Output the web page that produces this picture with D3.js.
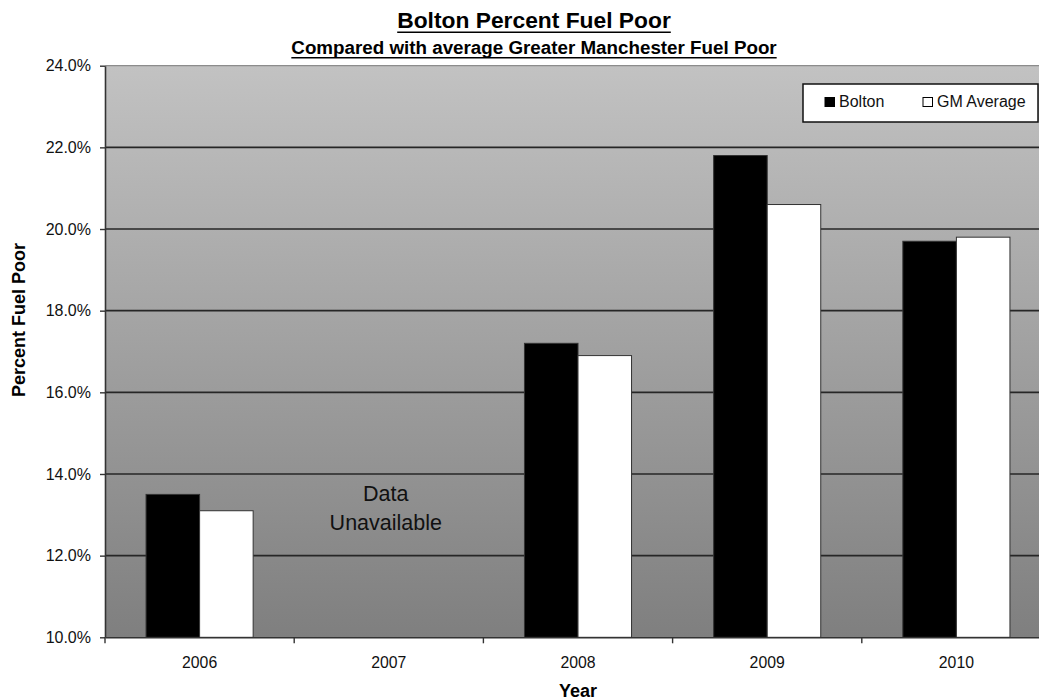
<!DOCTYPE html>
<html>
<head>
<meta charset="utf-8">
<script src="https://cdn.jsdelivr.net/npm/d3@7"></script>
<style>
  html, body { margin: 0; padding: 0; background: #fff; }
  svg { display: block; font-family: "Liberation Sans", Arial, Helvetica, sans-serif; }
</style>
</head>
<body>
<svg id="chart" width="1039" height="700"></svg>
<script>
// Percent of households in fuel poverty, by year
const years = ["2006", "2007", "2008", "2009", "2010"];
const boltonPct = [13.5, null, 17.2, 21.8, 19.7];
const gmAveragePct = [13.1, null, 16.9, 20.6, 19.8];
const seriesNames = ["Bolton", "GM Average"];
const yTickValues = [10, 12, 14, 16, 18, 20, 22, 24];

const seriesFill = { "Bolton": "#000000", "GM Average": "#ffffff" };
const seriesValues = { "Bolton": boltonPct, "GM Average": gmAveragePct };

const svg = d3.select("#chart");
const plot = { left: 105, right: 1051, top: 65.7, bottom: 637.3 };

const x = d3.scaleBand().domain(years).range([plot.left, plot.right]).padding(0);
const groupWidth = x.step() * 0.566;
const xs = d3.scaleBand().domain(seriesNames).range([0, groupWidth]).padding(0);
const y = d3.scaleLinear().domain([10, 24]).range([plot.bottom, plot.top]);

// plot-area gradient fill
const defs = svg.append("defs");
const grad = defs.append("linearGradient")
  .attr("id", "plotFill").attr("x1", 0).attr("y1", 0).attr("x2", 0).attr("y2", 1);
grad.append("stop").attr("offset", "0%").attr("stop-color", "#c2c2c2");
grad.append("stop").attr("offset", "100%").attr("stop-color", "#7f7f7f");

svg.append("rect")
  .attr("x", plot.left).attr("y", y(24))
  .attr("width", plot.right - plot.left).attr("height", y(10) - y(24))
  .attr("fill", "url(#plotFill)");

// top border of plot area
svg.append("line")
  .attr("x1", plot.left).attr("x2", plot.right)
  .attr("y1", y(24)).attr("y2", y(24))
  .attr("stroke", "#8c8c8c").attr("stroke-width", 1.2);

// horizontal gridlines
svg.append("g").selectAll("line")
  .data(yTickValues.filter(v => v > 10 && v < 24))
  .join("line")
  .attr("x1", plot.left).attr("x2", plot.right)
  .attr("y1", d => y(d)).attr("y2", d => y(d))
  .attr("stroke", "#262626").attr("stroke-width", 1.6);

// bars
const barData = [];
years.forEach((yr, i) => {
  seriesNames.forEach(s => {
    const v = seriesValues[s][i];
    if (v != null) barData.push({ year: yr, series: s, value: v });
  });
});

svg.append("g").selectAll("rect")
  .data(barData)
  .join("rect")
  .attr("x", d => x(d.year) + (x.bandwidth() - groupWidth) / 2 + xs(d.series))
  .attr("y", d => y(d.value))
  .attr("width", xs.bandwidth())
  .attr("height", d => y(10) - y(d.value))
  .attr("fill", d => seriesFill[d.series])
  .attr("stroke", "#333")
  .attr("stroke-width", 1);

// note for years without data
years.forEach((yr, i) => {
  if (boltonPct[i] == null && gmAveragePct[i] == null) {
    const cx = x(yr) + x.bandwidth() / 2 - 3;
    const t = svg.append("text")
      .attr("text-anchor", "middle")
      .attr("font-size", 21.5)
      .attr("fill", "#111");
    t.append("tspan").attr("x", cx).attr("y", y(13.35)).text("Data");
    t.append("tspan").attr("x", cx).attr("y", y(13.35) + 29.5).text("Unavailable");
  }
});

// y axis
const yAxis = svg.append("g")
  .attr("transform", `translate(${plot.left},0)`)
  .call(d3.axisLeft(y).tickValues(yTickValues)
    .tickFormat(d => d.toFixed(1) + "%")
    .tickSize(5).tickSizeOuter(0).tickPadding(9));
yAxis.select(".domain").attr("stroke", "#333").attr("stroke-width", 1.6);
yAxis.selectAll(".tick line").attr("stroke", "#333").attr("stroke-width", 1.4);
yAxis.selectAll(".tick text")
  .attr("font-size", 16).attr("fill", "#111")
  .attr("font-family", "\"Liberation Sans\", Arial, sans-serif");

// x axis
const xAxis = svg.append("g")
  .attr("transform", `translate(0,${plot.bottom})`)
  .call(d3.axisBottom(x).tickSize(0).tickPadding(19));
xAxis.select(".domain").attr("stroke", "#333").attr("stroke-width", 1.6);
xAxis.selectAll(".tick text")
  .attr("font-size", 15.8).attr("fill", "#111")
  .attr("font-family", "\"Liberation Sans\", Arial, sans-serif");

// category boundary ticks
const boundaries = years.map(yr => x(yr)).concat([x(years[years.length - 1]) + x.step()]);
svg.append("g").selectAll("line")
  .data(boundaries)
  .join("line")
  .attr("x1", d => d).attr("x2", d => d)
  .attr("y1", plot.bottom).attr("y2", plot.bottom + 6)
  .attr("stroke", "#333").attr("stroke-width", 1.4);

// axis titles
svg.append("text")
  .attr("x", (plot.left + plot.right) / 2).attr("y", 697)
  .attr("text-anchor", "middle")
  .attr("font-size", 18).attr("font-weight", "bold")
  .text("Year");

svg.append("text")
  .attr("transform", "translate(25,320) rotate(-90)")
  .attr("text-anchor", "middle")
  .attr("font-size", 18).attr("font-weight", "bold")
  .text("Percent Fuel Poor");

// titles with underlines
function underlinedTitle(text, cx, baseline, size, gap, thick) {
  const t = svg.append("text")
    .attr("x", cx).attr("y", baseline)
    .attr("text-anchor", "middle")
    .attr("font-size", size).attr("font-weight", "bold")
    .attr("fill", "#000")
    .text(text);
  const w = t.node().getComputedTextLength();
  svg.append("line")
    .attr("x1", cx - w / 2).attr("x2", cx + w / 2)
    .attr("y1", baseline + gap).attr("y2", baseline + gap)
    .attr("stroke", "#000").attr("stroke-width", thick);
}
underlinedTitle("Bolton Percent Fuel Poor", 534, 28.3, 22.8, 4, 1.6);
underlinedTitle("Compared with average Greater Manchester Fuel Poor", 534, 53.6, 18.8, 4.2, 1.4);

// legend
const legend = svg.append("g");
legend.append("rect")
  .attr("x", 803).attr("y", 84).attr("width", 235).attr("height", 38)
  .attr("fill", "#fff").attr("stroke", "#111").attr("stroke-width", 1.5);
const legendPos = { "Bolton": 825, "GM Average": 923 };
seriesNames.forEach(s => {
  const lx = legendPos[s];
  legend.append("rect")
    .attr("x", lx).attr("y", 97.5).attr("width", 9.5).attr("height", 9)
    .attr("fill", seriesFill[s]).attr("stroke", "#000").attr("stroke-width", 1);
  legend.append("text")
    .attr("x", lx + 14).attr("y", 107.3)
    .attr("font-size", 16).attr("fill", "#111")
    .text(s);
});
</script>
</body>
</html>
